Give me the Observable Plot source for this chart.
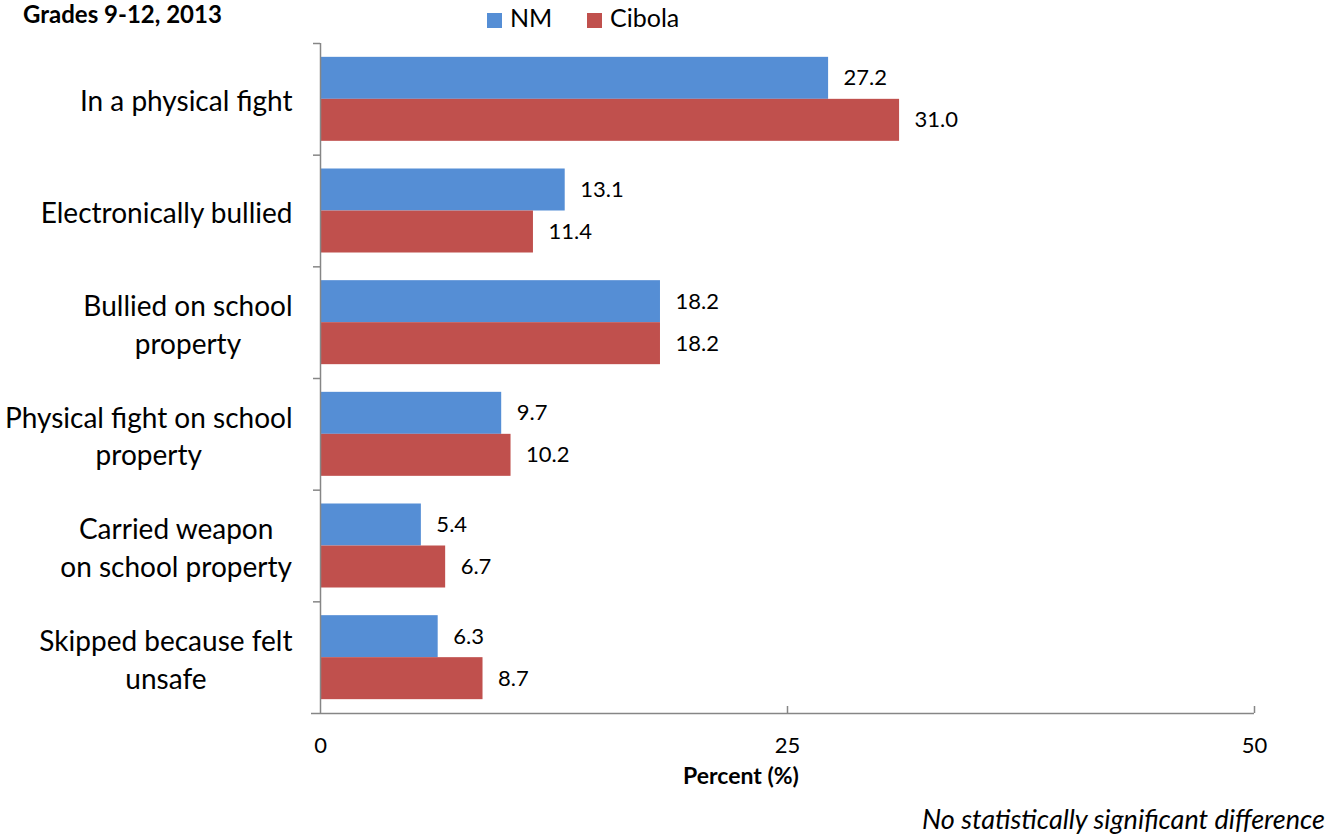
<!DOCTYPE html>
<html>
<head>
<meta charset="utf-8">
<script src="https://cdn.jsdelivr.net/npm/d3@7"></script>
<script src="https://cdn.jsdelivr.net/npm/@observablehq/plot@0.6"></script>
<style>
  body { margin: 0; background: #fff; font-family: Lato, sans-serif; color: #000; }
  #wrap { position: relative; width: 1340px; height: 834px; overflow: hidden; }
  #title { position: absolute; left: 23px; top: 4px; font-weight: bold; font-size: 24px; line-height: 20px; white-space: nowrap; }
  .leg { position: absolute; top: 2px; font-size: 25px; line-height: 30px; white-space: nowrap; }
  .sw { display: inline-block; width: 15px; height: 15px; margin-right: 8px; vertical-align: -1px; }
  #xlabel { position: absolute; left: 591px; width: 300px; text-align: center; top: 762px; font-weight: bold; font-size: 23px; line-height: 1.2; }
  #caption { position: absolute; right: 15px; top: 803px; font-style: italic; font-size: 27px; line-height: 1.2; white-space: nowrap; }
</style>
</head>
<body>
<div id="wrap">
  <div id="title">Grades 9-12, 2013</div>
  <div class="leg" style="left:487px"><span class="sw" style="background:#558ED5"></span>NM</div>
  <div class="leg" style="left:587px"><span class="sw" style="background:#C0504D"></span>Cibola</div>
  <div id="xlabel">Percent (%)</div>
  <div id="caption">No statistically significant difference</div>
</div>
<script>
const categories = [
  "In a physical fight",
  "Electronically bullied",
  "Bullied on school\nproperty",
  "Physical fight on school\nproperty",
  "Carried weapon\non school property",
  "Skipped because felt\nunsafe"
];
const nmValues = [27.2, 13.1, 18.2, 9.7, 5.4, 6.3];
const cibolaValues = [31.0, 11.4, 18.2, 10.2, 6.7, 8.7];
const xTicks = [0, 25, 50];

const nmData = categories.map((c, i) => ({category: c, value: nmValues[i]}));
const cibolaData = categories.map((c, i) => ({category: c, value: cibolaValues[i]}));

const W = 1340, H = 834;
const mt = 43, mb = 121, ml = 320, mr = 86;
const step = (H - mt - mb) / categories.length;
const barH = 42;
const gap = (step - 2 * barH) / 2;
const gray = "#868686";

const plot = Plot.plot({
  width: W,
  height: H,
  marginTop: mt,
  marginBottom: mb,
  marginLeft: ml,
  marginRight: mr,
  style: {fontFamily: "Lato, sans-serif", background: "#fff", color: "#000"},
  x: {domain: [0, 50], label: null},
  y: {domain: categories, padding: 0, round: false, axis: null},
  marks: [
    Plot.barX(nmData, {y: "category", x: "value", fill: "#558ED5", insetTop: gap, insetBottom: step - gap - barH}),
    Plot.barX(cibolaData, {y: "category", x: "value", fill: "#C0504D", insetTop: gap + barH, insetBottom: gap}),
    Plot.text(nmData, {y: "category", x: "value", text: d => d.value.toFixed(1), dx: 15, dy: -barH / 2, textAnchor: "start", fontSize: 22, fill: "#000"}),
    Plot.text(cibolaData, {y: "category", x: "value", text: d => d.value.toFixed(1), dx: 15, dy: barH / 2, textAnchor: "start", fontSize: 22, fill: "#000"}),
    Plot.text(categories, {y: d => d, x: 0, text: d => d, textAnchor: "middle", lineAnchor: "middle", lineHeight: 1.35, fontSize: 28, fill: "#000", className: "catlabel"}),
    Plot.ruleX([0], {stroke: gray, strokeWidth: 1.5}),
    Plot.ruleY(categories, {y: d => d, dy: -step / 2, x1: 0, x2: 0, insetLeft: -7, stroke: gray, strokeWidth: 1.5}),
    Plot.ruleY([categories[categories.length - 1]], {y: d => d, dy: step / 2, x1: 0, x2: 50, insetLeft: -9, stroke: gray, strokeWidth: 1.5}),
    Plot.ruleX(xTicks.slice(1), {x: d => d, insetTop: (H - mt - mb) - 7, stroke: gray, strokeWidth: 1.5}),
    Plot.axisX(xTicks, {tickSize: 0, tickPadding: 24, fontSize: 22, label: null, fill: "#000"})
  ]
});

const wrap = document.getElementById("wrap");
plot.style.position = "absolute";
plot.style.left = "0px";
plot.style.top = "0px";
wrap.insertBefore(plot, wrap.firstChild);

// Right-align the category label blocks (lines centered within each block), like the original
const rightEdge = ml - 28;
plot.querySelectorAll(".catlabel text").forEach(el => {
  const bb = el.getBBox();
  const t = el.getAttribute("transform") || "";
  const m = t.match(/translate\(([-\d.e]+)[ ,]+([-\d.e]+)\)/);
  const ty = m ? +m[2] : 0;
  el.setAttribute("transform", `translate(${rightEdge - (bb.x + bb.width)},${ty})`);
});
</script>
</body>
</html>
